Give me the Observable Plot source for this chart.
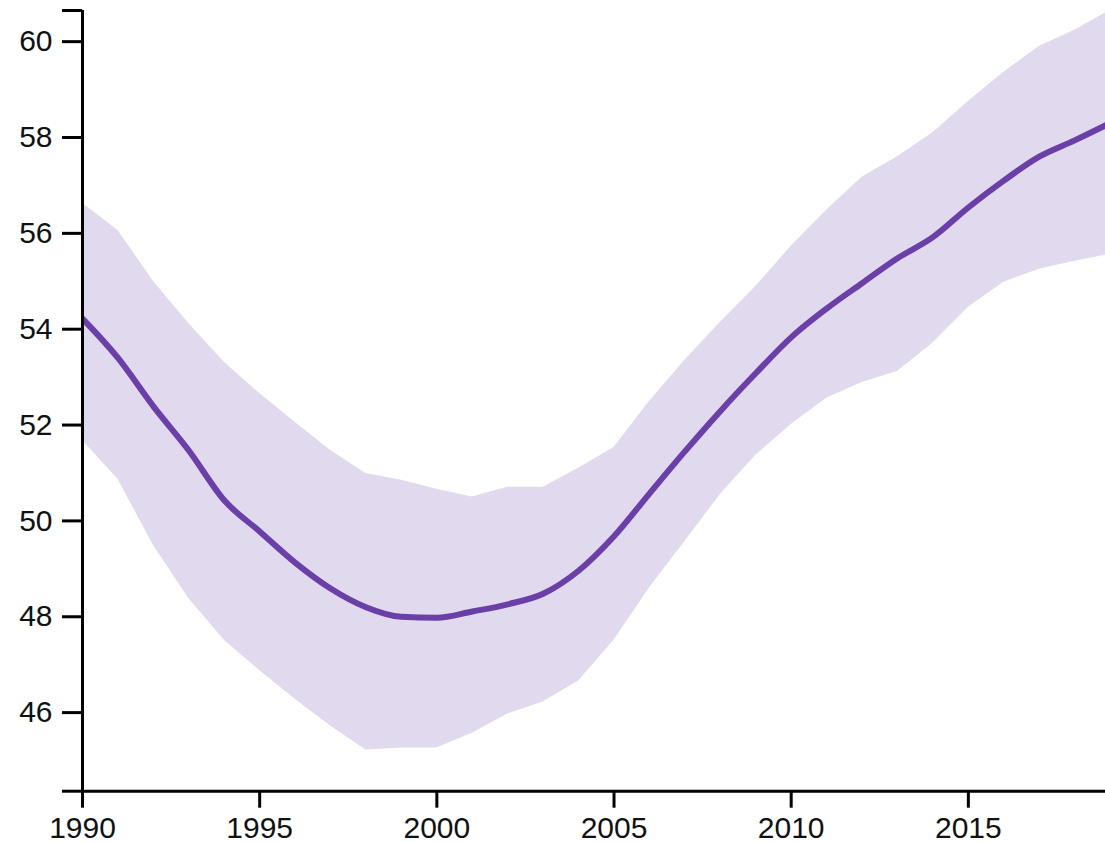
<!DOCTYPE html>
<html>
<head>
<meta charset="utf-8">
<script src="https://cdn.jsdelivr.net/npm/d3@7"></script>
<script src="https://cdn.jsdelivr.net/npm/@observablehq/plot@0.6"></script>
<style>
  html, body { margin: 0; padding: 0; background: #fff; overflow: hidden; }
  #chart svg { display: block; }
</style>
</head>
<body>
<div id="chart"></div>
<script>
const years = [1990,1991,1992,1993,1994,1995,1996,1997,1998,1999,2000,2001,2002,2003,2004,2005,2006,2007,2008,2009,2010,2011,2012,2013,2014,2015,2016,2017,2018,2019];
const mid   = [54.22,53.40,52.39,51.47,50.43,49.78,49.13,48.59,48.20,48.00,47.98,48.11,48.26,48.48,48.96,49.68,50.57,51.45,52.29,53.08,53.83,54.43,54.96,55.48,55.92,56.54,57.10,57.60,57.94,58.30];
const upper = [56.63,56.06,55.00,54.12,53.31,52.66,52.06,51.47,50.99,50.85,50.66,50.50,50.70,50.70,51.10,51.53,52.49,53.35,54.14,54.89,55.73,56.48,57.17,57.60,58.10,58.75,59.36,59.90,60.24,60.65];
const lower = [51.68,50.87,49.49,48.38,47.51,46.88,46.28,45.72,45.22,45.26,45.26,45.57,45.97,46.22,46.66,47.51,48.60,49.57,50.55,51.37,52.01,52.56,52.89,53.12,53.71,54.46,54.98,55.25,55.42,55.56];

const xTicks = [1990, 1995, 2000, 2005, 2010, 2015];
const yTicks = [46, 48, 50, 52, 54, 56, 58, 60];
const xDomain = [1990, 2018.87];
const yDomain = [44.36, 60.65];

const data = years.map((year, i) => ({year, mid: mid[i], hi: upper[i], lo: lower[i]}));

const chart = Plot.plot({
  width: 1105,
  height: 842,
  marginLeft: 82,
  marginRight: 0,
  marginTop: 10,
  marginBottom: 51.3,
  style: {fontFamily: "'Liberation Sans', Arial, sans-serif", background: "#fff", overflow: "visible"},
  x: {domain: xDomain, label: null},
  y: {domain: yDomain, label: null},
  marks: [
    Plot.areaY(data, {x: "year", y1: "lo", y2: "hi", fill: "#e1d9ee", curve: "linear", clip: true}),
    Plot.lineY(data, {x: "year", y: "mid", stroke: "#6a3fa8", strokeWidth: 6, curve: "monotone-x", clip: true}),
    Plot.ruleX([xDomain[0]], {stroke: "#000", strokeWidth: 3}),
    Plot.ruleY([yDomain[0]], {stroke: "#000", strokeWidth: 3}),
    Plot.axisY(yTicks, {tickSize: 20, tickPadding: 10, strokeWidth: 3, stroke: "#000", fontSize: 30, fill: "#111", tickFormat: "d", label: null}),
    Plot.axisY(yDomain, {tickSize: 20, strokeWidth: 3, stroke: "#000", tickFormat: () => "", label: null}),
    Plot.axisX(xTicks, {tickSize: 17, tickPadding: 8, strokeWidth: 3, stroke: "#000", fontSize: 30, fill: "#111", tickFormat: "d", label: null})
  ]
});
document.getElementById("chart").appendChild(chart);
</script>
</body>
</html>
